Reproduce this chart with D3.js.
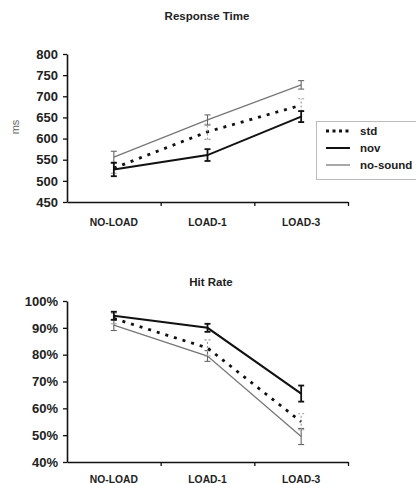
<!DOCTYPE html>
<html>
<head>
<meta charset="utf-8">
<title>Response Time / Hit Rate</title>
<script src="https://d3js.org/d3.v7.min.js"></script>
<style>
  body { margin: 0; background: #fff; }
  svg { font-family: "Liberation Sans", Arial, sans-serif; display: block; }
  .tick text { font-weight: bold; font-size: 13px; fill: #222; }
  .title { font-weight: bold; font-size: 11.5px; fill: #222; }
  .cat { font-weight: bold; font-size: 10.3px; fill: #222; }
</style>
</head>
<body>
<div id="chart"></div>
<script>
// categories
var categories = ["NO-LOAD", "LOAD-1", "LOAD-3"];
var seriesNames = ["std", "nov", "no-sound"];

// Response Time (ms)
var rtStd = [530, 616, 679], rtStdErr = [12, 18, 15];
var rtNov = [527, 561, 652], rtNovErr = [16, 14, 13];
var rtNoSound = [556, 644, 727], rtNoSoundErr = [14, 12, 10];
var rtTicks = [450, 500, 550, 600, 650, 700, 750, 800];

// Hit Rate (%)
var hrStd = [93.5, 82.5, 55], hrStdErr = [2, 3, 3];
var hrNov = [94.5, 90, 65.5], hrNovErr = [1.5, 1.5, 3];
var hrNoSound = [91, 79.5, 49.5], hrNoSoundErr = [2, 2, 3];
var hrTicks = [40, 50, 60, 70, 80, 90, 100];

var styles = {
  "std":      {stroke: "#111", width: 2.8, dash: "3,6", errStroke: "#999", errDash: "2,2"},
  "nov":      {stroke: "#111", width: 2,   dash: null,  errStroke: "#111", errDash: null},
  "no-sound": {stroke: "#777", width: 1.3, dash: null,  errStroke: "#666", errDash: null}
};

var svg = d3.select("#chart").append("svg")
  .attr("width", 416).attr("height", 484);

function drawPanel(opts) {
  var g = svg.append("g");
  var x = d3.scaleBand().domain(categories).range([67, 348]).padding(0);
  var xb = d3.scaleLinear().domain([0, 3]).range([67, 348]);
  var y = d3.scaleLinear().domain(opts.domain).range(opts.yRange);

  // title
  g.append("text").attr("class", "title")
    .attr("x", opts.titleX).attr("y", opts.titleY)
    .attr("text-anchor", "middle").text(opts.title);

  // y axis
  var ya = g.append("g").attr("transform", "translate(67,0)")
    .call(d3.axisLeft(y).tickValues(opts.ticks).tickSize(4).tickPadding(5)
      .tickFormat(opts.fmt).tickSizeOuter(0));
  ya.select(".domain").attr("stroke-width", 1.6).attr("stroke", "#111");
  ya.selectAll(".tick line").attr("stroke", "#111").attr("stroke-width", 1.3);

  // x axis
  var xa = g.append("g").attr("transform", "translate(0," + opts.yRange[0] + ")")
    .call(d3.axisBottom(xb).tickValues([1, 2, 3]).tickSize(4).tickFormat("").tickSizeOuter(0));
  xa.select(".domain").attr("stroke-width", 1.6).attr("stroke", "#111");
  xa.selectAll(".tick line").attr("stroke", "#111").attr("stroke-width", 1.3);

  g.selectAll("text.cat").data(categories).enter().append("text")
    .attr("class", "cat")
    .attr("x", function(d) { return x(d) + x.bandwidth() / 2; })
    .attr("y", opts.catY)
    .attr("text-anchor", "middle")
    .text(function(d) { return d; });

  var line = d3.line()
    .x(function(d, i) { return x(categories[i]) + x.bandwidth() / 2; })
    .y(function(d) { return y(d); });

  // draw order: no-sound, std, nov
  ["no-sound", "std", "nov"].forEach(function(name) {
    var s = opts.series[name], st = styles[name];
    g.append("path").datum(s.values)
      .attr("fill", "none")
      .attr("stroke", st.stroke)
      .attr("stroke-width", st.width)
      .attr("stroke-dasharray", st.dash)
      .attr("d", line);

    var eb = g.append("g");
    s.values.forEach(function(v, i) {
      var cx = x(categories[i]) + x.bandwidth() / 2;
      var e = s.err[i];
      var w = name === "nov" ? 1.8 : 1.1;
      eb.append("line").attr("x1", cx).attr("x2", cx)
        .attr("y1", y(v - e)).attr("y2", y(v + e))
        .attr("stroke", st.errStroke).attr("stroke-width", w)
        .attr("stroke-dasharray", st.errDash);
      [v - e, v + e].forEach(function(t) {
        eb.append("line").attr("x1", cx - 3).attr("x2", cx + 3)
          .attr("y1", y(t)).attr("y2", y(t))
          .attr("stroke", st.errStroke).attr("stroke-width", w)
          .attr("stroke-dasharray", st.errDash);
      });
    });
  });
  return g;
}

drawPanel({
  title: "Response Time", titleX: 207, titleY: 20,
  domain: [450, 800], yRange: [202, 54], ticks: rtTicks,
  fmt: function(d) { return d; }, catY: 226,
  series: {
    "std": {values: rtStd, err: rtStdErr},
    "nov": {values: rtNov, err: rtNovErr},
    "no-sound": {values: rtNoSound, err: rtNoSoundErr}
  }
});

// y label
svg.append("text")
  .attr("transform", "translate(19,127) rotate(-90)")
  .attr("text-anchor", "middle")
  .attr("font-size", 11).attr("fill", "#666")
  .text("ms");

// legend
var lg = svg.append("g");
lg.append("rect").attr("x", 316.5).attr("y", 121.5).attr("width", 110).attr("height", 58)
  .attr("fill", "#fff").attr("stroke", "#bbb");
seriesNames.forEach(function(name, i) {
  var st = styles[name], yy = 131 + i * 17;
  lg.append("line").attr("x1", 326).attr("x2", 350).attr("y1", yy).attr("y2", yy)
    .attr("stroke", st.stroke).attr("stroke-width", st.width)
    .attr("stroke-dasharray", name === "std" ? "3,3.5" : null);
  lg.append("text").attr("x", 360).attr("y", yy + 4)
    .attr("font-size", 11.5).attr("font-weight", "bold").attr("fill", "#222")
    .text(name);
});

drawPanel({
  title: "Hit Rate", titleX: 211, titleY: 286,
  domain: [40, 100], yRange: [462, 301], ticks: hrTicks,
  fmt: function(d) { return d + "%"; }, catY: 483,
  series: {
    "std": {values: hrStd, err: hrStdErr},
    "nov": {values: hrNov, err: hrNovErr},
    "no-sound": {values: hrNoSound, err: hrNoSoundErr}
  }
});
</script>
</body>
</html>
